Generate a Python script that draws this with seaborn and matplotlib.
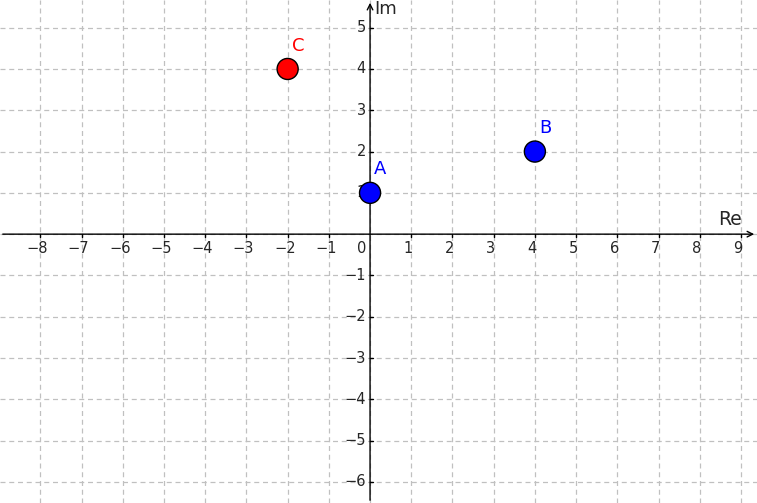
import matplotlib
matplotlib.use("Agg")
import matplotlib.pyplot as plt
import seaborn as sns
import pandas as pd

names = ["A", "B", "C"]
re_vals = [0, 4, -2]
im_vals = [1, 2, 4]
colors = ["#0000ff", "#0000ff", "#ff0000"]
x_ticks = [-8, -7, -6, -5, -4, -3, -2, -1, 1, 2, 3, 4, 5, 6, 7, 8, 9]
y_ticks = [-6, -5, -4, -3, -2, -1, 1, 2, 3, 4, 5]

sns.set_style("white")
fig = plt.figure(figsize=(7.57, 5.03), dpi=100)
ax = fig.add_axes([0, 0, 1, 1])
xmin, xmax = -8.98, 9.39
ymin, ymax = -6.51, 5.67
ax.set_xlim(xmin, xmax)
ax.set_ylim(ymin, ymax)
for s in ax.spines.values():
    s.set_visible(False)
ax.set_xticks([]); ax.set_yticks([])

for x in range(-8, 10):
    ax.axvline(x, color="#c0c0c0", lw=0.9, ls=(0, (4, 3)), zorder=0)
for y in range(-6, 6):
    ax.axhline(y, color="#c0c0c0", lw=0.9, ls=(0, (4, 3)), zorder=0)

ax.annotate("", xy=(xmax, 0), xytext=(xmin, 0),
            arrowprops=dict(arrowstyle="->", color="black", lw=1), zorder=2)
ax.annotate("", xy=(0, ymax), xytext=(0, ymin),
            arrowprops=dict(arrowstyle="->", color="black", lw=1), zorder=2)

for x in x_ticks:
    ax.plot([x, x], [0, -0.08], color="black", lw=1)
    lab = str(x).replace("-", "\u2212")
    ax.text(x - 0.07, -0.17, lab, ha="center", va="top", fontsize=10.5)
ax.text(-0.1, -0.17, "0", ha="right", va="top", fontsize=10.5)
for y in y_ticks:
    ax.plot([0, 0.08], [y, y], color="black", lw=1)
    lab = str(y).replace("-", "\u2212")
    ax.text(-0.1, y, lab, ha="right", va="center", fontsize=10.5)
ax.text(8.45, 0.12, "Re", ha="left", va="bottom", fontsize=13.5)
ax.text(0.1, 5.45, "Im", ha="left", va="center", fontsize=13)

df = pd.DataFrame({"re": re_vals, "im": im_vals, "name": names})
sns.scatterplot(data=df, x="re", y="im", hue="name", palette=colors,
                s=230, edgecolor="black", linewidth=1, legend=False, ax=ax, zorder=5)
for n, x, y, c in zip(names, re_vals, im_vals, colors):
    ax.text(x + 0.1, y + 0.35, n, color=c, fontsize=13, ha="left", va="bottom")

ax.set_xlabel(""); ax.set_ylabel("")
fig.savefig("out.png", dpi=100)
